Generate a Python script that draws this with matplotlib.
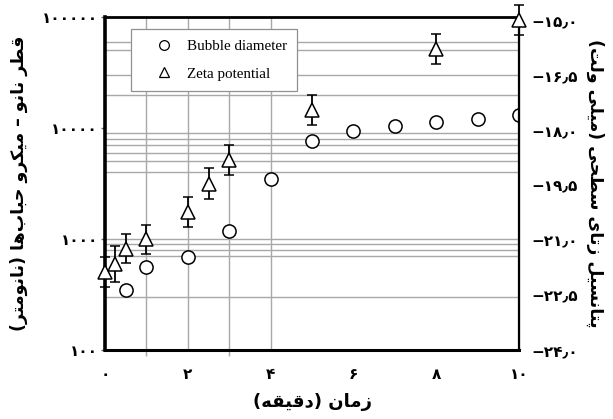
import matplotlib
matplotlib.use('Agg')
import matplotlib.pyplot as plt
from matplotlib.lines import Line2D

# ---------------- data ----------------
time_bubble = [0.5, 1, 2, 3, 4, 5, 6, 7, 8, 9, 10]
bubble_nm = [348, 562, 693, 1180, 3450, 7690, 9400, 10500, 11400, 11970, 13100]

time_zeta = [0, 0.25, 0.5, 1, 2, 2.5, 3, 5, 8, 10]
zeta_mv = [-21.86, -21.64, -21.22, -20.97, -20.21, -19.44, -18.79, -17.42, -15.75, -14.96]
zeta_err = [0.41, 0.50, 0.40, 0.40, 0.41, 0.42, 0.41, 0.41, 0.41, 0.41]

x_ticks = [0, 2, 4, 6, 8, 10]
left_ticks = [100, 1000, 10000, 100000]
right_ticks = [-24.0, -22.5, -21.0, -19.5, -18.0, -16.5, -15.0]
grid_levels = [60000, 50000, 30000, 20000, 9000, 8000, 7000, 6000, 5000, 4000,
               1000, 900, 800, 700, 300]
grid_times = [1, 2, 3, 4]

legend_labels = ['Bubble diameter', 'Zeta potential']
xlabel_txt = 'زمان (دقیقه)'
ylabel_left_txt = 'قطر نانو – میکرو حباب‌ها (نانومتر)'
ylabel_right_txt = 'پتانسیل زتای سطحی (میلی ولت)'

# ---------------- simple Persian shaping ----------------
FORMS = {
    'ا': ('\uFE8D', '\uFE8E', None, None),
    'د': ('\uFEA9', '\uFEAA', None, None),
    'ر': ('\uFEAD', '\uFEAE', None, None),
    'ز': ('\uFEAF', '\uFEB0', None, None),
    'و': ('\uFEED', '\uFEEE', None, None),
    'ب': ('\uFE8F', '\uFE90', '\uFE91', '\uFE92'),
    'ت': ('\uFE95', '\uFE96', '\uFE97', '\uFE98'),
    'ح': ('\uFEA1', '\uFEA2', '\uFEA3', '\uFEA4'),
    'س': ('\uFEB1', '\uFEB2', '\uFEB3', '\uFEB4'),
    'ط': ('\uFEC1', '\uFEC2', '\uFEC3', '\uFEC4'),
    'ق': ('\uFED5', '\uFED6', '\uFED7', '\uFED8'),
    'ل': ('\uFEDD', '\uFEDE', '\uFEDF', '\uFEE0'),
    'م': ('\uFEE1', '\uFEE2', '\uFEE3', '\uFEE4'),
    'ن': ('\uFEE5', '\uFEE6', '\uFEE7', '\uFEE8'),
    'ه': ('\uFEE9', '\uFEEA', '\uFEEB', '\uFEEC'),
    'پ': ('\uFB56', '\uFB57', '\uFB58', '\uFB59'),
    'ک': ('\uFB8E', '\uFB8F', '\uFB90', '\uFB91'),
    'ی': ('\uFBFC', '\uFBFD', '\uFBFE', '\uFBFF'),
}


def dual(c):
    return c in FORMS and FORMS[c][2] is not None


def shape_fa(text):
    out = []
    n = len(text)
    for i, c in enumerate(text):
        if c == '\u200c':
            continue
        if c not in FORMS:
            out.append(c)
            continue
        prev = text[i - 1] if i > 0 else ''
        nxt = text[i + 1] if i + 1 < n else ''
        jp = dual(prev)
        jn = dual(c) and (nxt in FORMS)
        if jp and jn:
            f = FORMS[c][3]
        elif jp:
            f = FORMS[c][1]
        elif jn:
            f = FORMS[c][2]
        else:
            f = FORMS[c][0]
        out.append(f)
    vis = ''.join(reversed(out))
    mirror = {'(': ')', ')': '('}
    return ''.join(mirror.get(ch, ch) for ch in vis)


FA_DIGITS = str.maketrans('0123456789.-', '۰۱۲۳۴۵۶۷۸۹٫−')


def fa_num(s):
    return s.translate(FA_DIGITS)


# ---------------- figure ----------------
fig = plt.figure(figsize=(6.13, 4.19), dpi=100)
ax = fig.add_axes([0.1713, 0.1647, 0.6754, 0.7947])
ax2 = ax.twinx()

ax.set_yscale('log')
ax.set_xlim(0, 10)
ax.set_ylim(100, 100000)
ax2.set_ylim(-24, -14.87)

grid_col = '#a8a8a8'
for g in grid_levels:
    ax.axhline(g, color=grid_col, lw=1.0, zorder=0)
for t in grid_times:
    ax.axvline(t, color=grid_col, lw=1.0, zorder=0)

ax.plot(time_bubble, bubble_nm, linestyle='none', marker='o', ms=9.5,
        mfc='white', mec='black', mew=1.1, zorder=3)

ax2.errorbar(time_zeta, zeta_mv, yerr=zeta_err, fmt='^', ms=10.5,
             mfc='white', mec='black', mew=1.1, ecolor='black',
             elinewidth=1.3, capsize=3.5, capthick=2.0, zorder=3,
             clip_on=False)

# spines
for a in (ax, ax2):
    for s in a.spines.values():
        s.set_color('black')
ax.spines['left'].set_linewidth(2.6)
ax.spines['bottom'].set_linewidth(2.2)
ax.spines['top'].set_linewidth(2.0)
ax2.spines['right'].set_linewidth(1.6)
ax2.spines['left'].set_visible(False)
ax2.spines['bottom'].set_visible(False)
ax2.spines['top'].set_visible(False)

fa_font = dict(family=['DejaVu Sans'], weight='bold')

# x ticks
ax.set_xticks(x_ticks)
ax.set_xticklabels([fa_num(str(v)) for v in x_ticks], fontsize=11, **fa_font)
ax.set_xticks(list(range(0, 5)), minor=True)
ax.tick_params(axis='x', which='major', length=0, pad=12)
ax.tick_params(axis='x', which='minor', length=4, color=grid_col, width=1)

# left y ticks
ax.set_yticks(left_ticks)
ax.set_yticklabels([fa_num(str(v)) for v in left_ticks], fontsize=11, **fa_font)
ax.yaxis.set_minor_locator(matplotlib.ticker.NullLocator())
ax.tick_params(axis='y', which='major', length=3, width=1, color='#666666', pad=2)

# right y ticks
ax2.set_yticks(right_ticks)
ax2.set_yticklabels([fa_num(f'{v:.1f}') for v in right_ticks], fontsize=11, **fa_font)
ax2.tick_params(axis='y', which='major', length=0, pad=9)

# axis labels
ax.set_xlabel(shape_fa(xlabel_txt), fontsize=13, labelpad=8, **fa_font)
ax.set_ylabel(shape_fa(ylabel_left_txt), fontsize=12.5, labelpad=10, **fa_font)
ax2.set_ylabel(shape_fa(ylabel_right_txt), fontsize=12.5, rotation=270,
               labelpad=19, **fa_font)

# legend
handles = [
    Line2D([], [], linestyle='none', marker='o', ms=7, mfc='white', mec='black', mew=0.9),
    Line2D([], [], linestyle='none', marker='^', ms=7, mfc='white', mec='black', mew=0.9),
]
leg = ax2.legend(handles, legend_labels, loc='upper left',
                 bbox_to_anchor=(0.063, 0.964), borderaxespad=0,
                 prop=dict(family='Liberation Serif', size=10.8),
                 frameon=True, fancybox=False, framealpha=1,
                 edgecolor='#909090', borderpad=0.7, handlelength=3.0,
                 handletextpad=0.0, labelspacing=0.95)
leg.get_frame().set_linewidth(0.9)
leg.set_zorder(10)

fig.savefig('out.png', dpi=100)
